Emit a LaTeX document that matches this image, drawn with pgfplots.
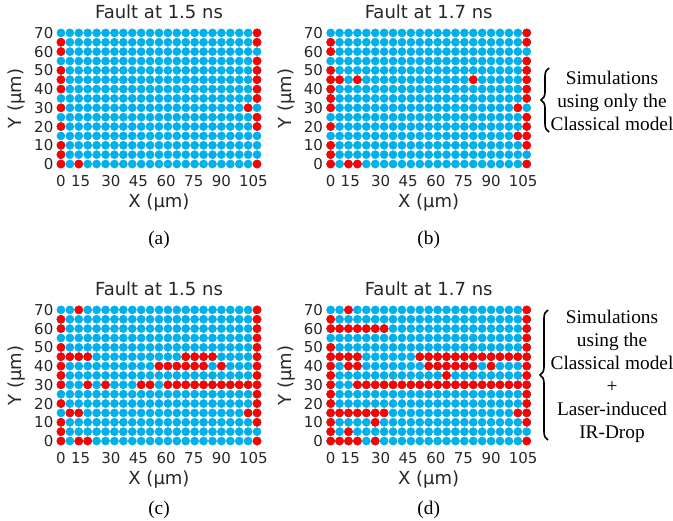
\documentclass[border=0pt]{standalone}
\usepackage{fontspec}
\setmainfont{Liberation Serif}
\newfontfamily\dejavu{DejaVu Sans}
\usepackage{pgfplots}
\usepackage{pgfplotstable}
\usetikzlibrary{decorations.pathreplacing}
\pgfplotsset{compat=1.18}

\definecolor{dotblue}{RGB}{0,176,235}
\definecolor{dotred}{RGB}{255,0,0}
\definecolor{txt}{RGB}{38,38,38}

% full probe grid: 23 columns (0..105 um) x 15 rows (0..70 um)
\pgfplotstableread[row sep=\\]{
x y\\
0 0\\ 1 0\\ 2 0\\ 3 0\\ 4 0\\ 5 0\\ 6 0\\ 7 0\\ 8 0\\ 9 0\\ 10 0\\ 11 0\\ 12 0\\ 13 0\\ 14 0\\ 15 0\\ 16 0\\ 17 0\\ 18 0\\ 19 0\\ 20 0\\ 21 0\\ 22 0\\
0 5\\ 1 5\\ 2 5\\ 3 5\\ 4 5\\ 5 5\\ 6 5\\ 7 5\\ 8 5\\ 9 5\\ 10 5\\ 11 5\\ 12 5\\ 13 5\\ 14 5\\ 15 5\\ 16 5\\ 17 5\\ 18 5\\ 19 5\\ 20 5\\ 21 5\\ 22 5\\
0 10\\ 1 10\\ 2 10\\ 3 10\\ 4 10\\ 5 10\\ 6 10\\ 7 10\\ 8 10\\ 9 10\\ 10 10\\ 11 10\\ 12 10\\ 13 10\\ 14 10\\ 15 10\\ 16 10\\ 17 10\\ 18 10\\ 19 10\\ 20 10\\ 21 10\\ 22 10\\
0 15\\ 1 15\\ 2 15\\ 3 15\\ 4 15\\ 5 15\\ 6 15\\ 7 15\\ 8 15\\ 9 15\\ 10 15\\ 11 15\\ 12 15\\ 13 15\\ 14 15\\ 15 15\\ 16 15\\ 17 15\\ 18 15\\ 19 15\\ 20 15\\ 21 15\\ 22 15\\
0 20\\ 1 20\\ 2 20\\ 3 20\\ 4 20\\ 5 20\\ 6 20\\ 7 20\\ 8 20\\ 9 20\\ 10 20\\ 11 20\\ 12 20\\ 13 20\\ 14 20\\ 15 20\\ 16 20\\ 17 20\\ 18 20\\ 19 20\\ 20 20\\ 21 20\\ 22 20\\
0 25\\ 1 25\\ 2 25\\ 3 25\\ 4 25\\ 5 25\\ 6 25\\ 7 25\\ 8 25\\ 9 25\\ 10 25\\ 11 25\\ 12 25\\ 13 25\\ 14 25\\ 15 25\\ 16 25\\ 17 25\\ 18 25\\ 19 25\\ 20 25\\ 21 25\\ 22 25\\
0 30\\ 1 30\\ 2 30\\ 3 30\\ 4 30\\ 5 30\\ 6 30\\ 7 30\\ 8 30\\ 9 30\\ 10 30\\ 11 30\\ 12 30\\ 13 30\\ 14 30\\ 15 30\\ 16 30\\ 17 30\\ 18 30\\ 19 30\\ 20 30\\ 21 30\\ 22 30\\
0 35\\ 1 35\\ 2 35\\ 3 35\\ 4 35\\ 5 35\\ 6 35\\ 7 35\\ 8 35\\ 9 35\\ 10 35\\ 11 35\\ 12 35\\ 13 35\\ 14 35\\ 15 35\\ 16 35\\ 17 35\\ 18 35\\ 19 35\\ 20 35\\ 21 35\\ 22 35\\
0 40\\ 1 40\\ 2 40\\ 3 40\\ 4 40\\ 5 40\\ 6 40\\ 7 40\\ 8 40\\ 9 40\\ 10 40\\ 11 40\\ 12 40\\ 13 40\\ 14 40\\ 15 40\\ 16 40\\ 17 40\\ 18 40\\ 19 40\\ 20 40\\ 21 40\\ 22 40\\
0 45\\ 1 45\\ 2 45\\ 3 45\\ 4 45\\ 5 45\\ 6 45\\ 7 45\\ 8 45\\ 9 45\\ 10 45\\ 11 45\\ 12 45\\ 13 45\\ 14 45\\ 15 45\\ 16 45\\ 17 45\\ 18 45\\ 19 45\\ 20 45\\ 21 45\\ 22 45\\
0 50\\ 1 50\\ 2 50\\ 3 50\\ 4 50\\ 5 50\\ 6 50\\ 7 50\\ 8 50\\ 9 50\\ 10 50\\ 11 50\\ 12 50\\ 13 50\\ 14 50\\ 15 50\\ 16 50\\ 17 50\\ 18 50\\ 19 50\\ 20 50\\ 21 50\\ 22 50\\
0 55\\ 1 55\\ 2 55\\ 3 55\\ 4 55\\ 5 55\\ 6 55\\ 7 55\\ 8 55\\ 9 55\\ 10 55\\ 11 55\\ 12 55\\ 13 55\\ 14 55\\ 15 55\\ 16 55\\ 17 55\\ 18 55\\ 19 55\\ 20 55\\ 21 55\\ 22 55\\
0 60\\ 1 60\\ 2 60\\ 3 60\\ 4 60\\ 5 60\\ 6 60\\ 7 60\\ 8 60\\ 9 60\\ 10 60\\ 11 60\\ 12 60\\ 13 60\\ 14 60\\ 15 60\\ 16 60\\ 17 60\\ 18 60\\ 19 60\\ 20 60\\ 21 60\\ 22 60\\
0 65\\ 1 65\\ 2 65\\ 3 65\\ 4 65\\ 5 65\\ 6 65\\ 7 65\\ 8 65\\ 9 65\\ 10 65\\ 11 65\\ 12 65\\ 13 65\\ 14 65\\ 15 65\\ 16 65\\ 17 65\\ 18 65\\ 19 65\\ 20 65\\ 21 65\\ 22 65\\
0 70\\ 1 70\\ 2 70\\ 3 70\\ 4 70\\ 5 70\\ 6 70\\ 7 70\\ 8 70\\ 9 70\\ 10 70\\ 11 70\\ 12 70\\ 13 70\\ 14 70\\ 15 70\\ 16 70\\ 17 70\\ 18 70\\ 19 70\\ 20 70\\ 21 70\\ 22 70\\
}\grid

\pgfplotsset{
  panel/.style={
    scale only axis, width=205bp, height=140.5bp, anchor=south west,
    xmin=-0.5, xmax=22.5, ymin=-2.5, ymax=72.5, clip=false,
    axis line style={draw=none}, tick style={draw=none},
    xtick={0,2.2,5.6,8.7,11.8,14.9,18.0,21.6},
    xticklabels={0,15,30,45,60,75,90,105},
    ytick={0,10,20,30,40,50,60,70},
    yticklabels={0,10,20,30,40,50,60,70},
    ticklabel style={font=\dejavu\fontsize{15bp}{15bp}\selectfont, text=txt, inner sep=0pt},
    xticklabel style={anchor=base, yshift=-17.3bp},
    yticklabel style={anchor=east, xshift=-3bp},
    title style={at={(axis description cs:0.5,1.0235)}, anchor=base,
      font=\dejavu\fontsize{18bp}{18bp}\selectfont, text=txt},
    xlabel style={at={(axis description cs:0.5,-0.2747)}, anchor=base,
      font=\dejavu\fontsize{18bp}{18bp}\selectfont, text=txt},
    ylabel style={at={(axis description cs:-0.1707,0.5)}, anchor=base,
      font=\dejavu\fontsize{18bp}{18bp}\selectfont, text=txt},
    xlabel={X (µm)}, ylabel={Y (µm)},
  },
  ok/.style={only marks, mark=*, mark size=4.1bp, dotblue, mark options={draw=none, fill=dotblue}},
  fault/.style={only marks, mark=*, mark size=4.1bp, dotred, mark options={draw=none, fill=dotred}},
}

\begin{document}
\begin{tikzpicture}
\useasboundingbox (0,0) rectangle (673bp,-521bp);

% (a) classical model, 1.5 ns
\begin{axis}[panel, at={(56.5bp,-168.7bp)}, title={Fault at 1.5 ns}]
\addplot[ok] table {\grid};
\addplot[fault] coordinates {
  (0,65)(0,60)(0,50)(0,45)(0,40)(0,30)(0,20)(0,10)(0,5)(0,0)
  (2,0)(21,30)
  (22,70)(22,65)(22,55)(22,50)(22,45)(22,40)(22,35)(22,25)(22,20)(22,0)
};
\end{axis}

% (b) classical model, 1.7 ns
\begin{axis}[panel, at={(326.2bp,-168.7bp)}, title={Fault at 1.7 ns}]
\addplot[ok] table {\grid};
\addplot[fault] coordinates {
  (0,65)(0,60)(0,50)(0,45)(0,40)(0,35)(0,30)(0,20)(0,10)(0,5)(0,0)
  (1,45)(3,45)(16,45)(2,0)(3,0)(21,30)(21,15)
  (22,70)(22,65)(22,55)(22,50)(22,45)(22,40)(22,35)(22,25)(22,20)(22,15)(22,10)(22,0)
};
\end{axis}

% (c) classical + IR-drop, 1.5 ns
\begin{axis}[panel, at={(56.5bp,-445.7bp)}, title={Fault at 1.5 ns}]
\addplot[ok] table {\grid};
\addplot[fault] coordinates {
  (2,70)(22,70)
  (0,65)(22,65)
  (0,60)(22,60)
  (22,55)
  (0,50)(22,50)
  (0,45)(1,45)(2,45)(3,45)(14,45)(15,45)(16,45)(17,45)(22,45)
  (0,40)(11,40)(12,40)(13,40)(14,40)(15,40)(16,40)(18,40)(22,40)
  (0,35)(22,35)
  (0,30)(3,30)(5,30)(9,30)(10,30)(12,30)(13,30)(14,30)(15,30)(16,30)(17,30)(18,30)(19,30)(20,30)(21,30)(22,30)
  (22,25)
  (0,20)(22,20)
  (1,15)(2,15)(21,15)(22,15)
  (0,10)(22,10)
  (0,5)
  (0,0)(2,0)(3,0)(22,0)
};
\end{axis}

% (d) classical + IR-drop, 1.7 ns
\begin{axis}[panel, at={(326.2bp,-445.7bp)}, title={Fault at 1.7 ns}]
\addplot[ok] table {\grid};
\addplot[fault] coordinates {
  (2,70)(22,70)
  (0,65)(22,65)
  (0,60)(1,60)(2,60)(3,60)(4,60)(5,60)(6,60)(22,60)
  (22,55)
  (0,50)(22,50)
  (0,45)(1,45)(2,45)(3,45)(10,45)(11,45)(12,45)(13,45)(14,45)(15,45)(16,45)(17,45)(18,45)(19,45)(20,45)(21,45)(22,45)
  (0,40)(2,40)(3,40)(11,40)(12,40)(13,40)(14,40)(15,40)(16,40)(18,40)(22,40)
  (0,35)(13,35)(22,35)
  (0,30)(3,30)(4,30)(5,30)(6,30)(7,30)(8,30)(9,30)(10,30)(11,30)(12,30)(13,30)(14,30)(15,30)(16,30)(17,30)(18,30)(19,30)(20,30)(21,30)(22,30)
  (0,25)(22,25)
  (0,20)(22,20)
  (0,15)(1,15)(2,15)(3,15)(4,15)(5,15)(6,15)(21,15)(22,15)
  (0,10)(5,10)(22,10)
  (0,5)(2,5)
  (0,0)(1,0)(2,0)(3,0)(5,0)(22,0)
};
\end{axis}

% sub-figure captions
\begin{scope}[every node/.style={font=\fontsize{19.3bp}{23bp}\selectfont}]
\node at (159bp,-240bp) {(a)};
\node at (428.7bp,-240bp) {(b)};
\node at (159bp,-510bp) {(c)};
\node at (428.7bp,-510bp) {(d)};

% side notes with braces
\draw[line width=1.6bp, decorate, decoration={brace, amplitude=8bp}]
  (549bp,-132bp) -- (549bp,-68bp);
\node[align=center] at (612bp,-101bp) {Simulations\\using only the\\Classical model};
\draw[line width=1.6bp, decorate, decoration={brace, amplitude=8bp}]
  (548bp,-440bp) -- (548bp,-310bp);
\node[align=center] at (612bp,-376bp) {Simulations\\using the\\Classical model\\+\\Laser-induced\\IR-Drop};
\end{scope}
\end{tikzpicture}
\end{document}
